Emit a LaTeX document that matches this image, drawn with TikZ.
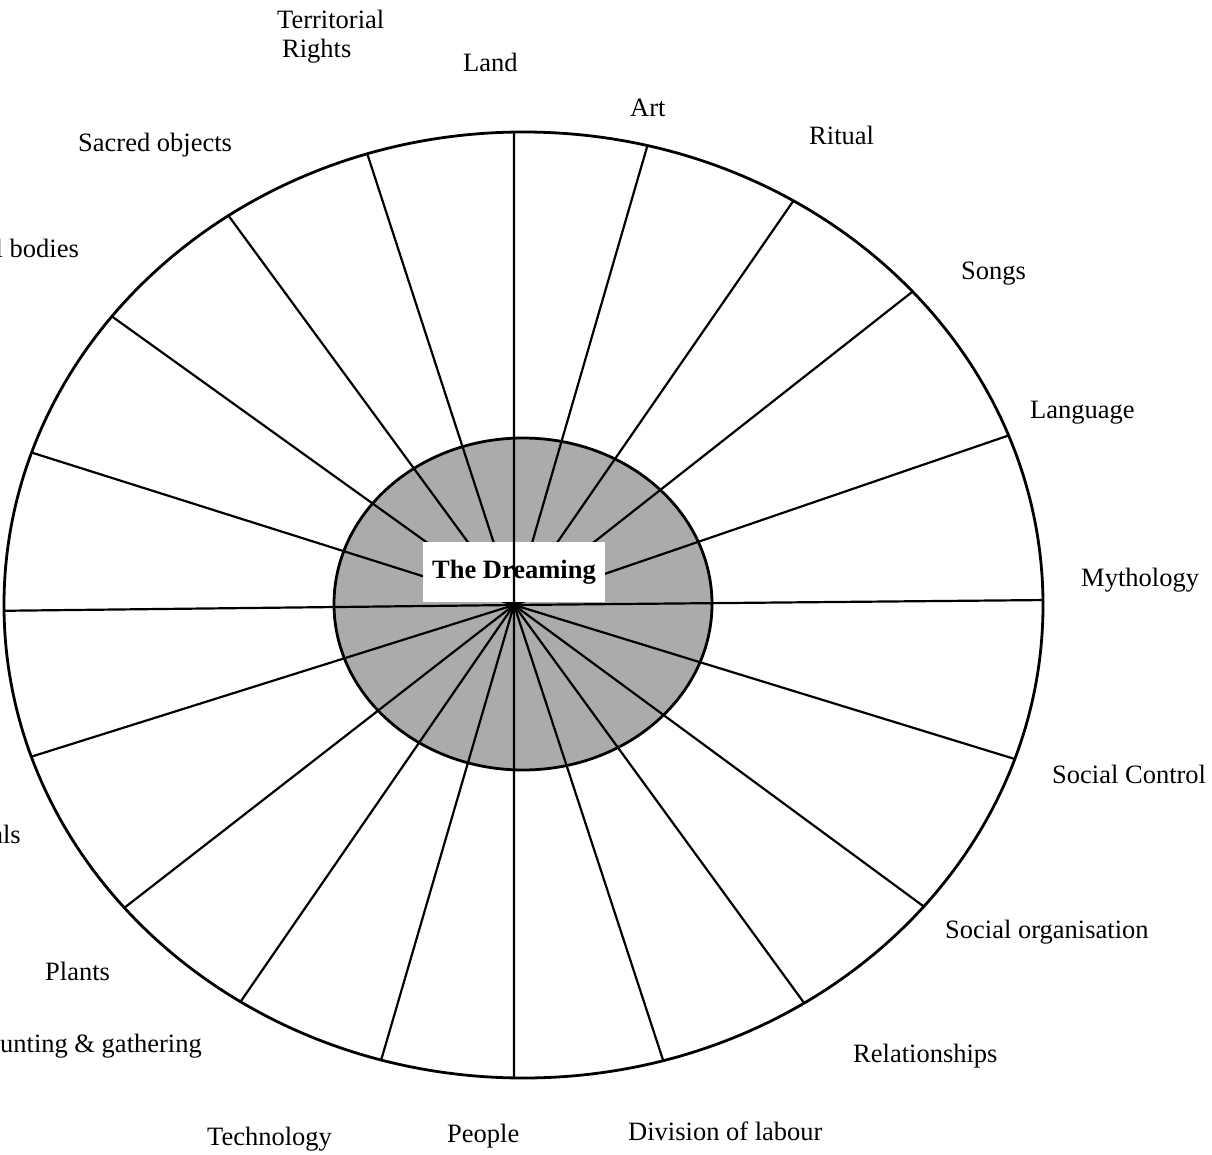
\documentclass[tikz,border=0pt]{standalone}
\usepackage{fontspec}
\setmainfont{Liberation Serif}
\begin{document}
\begin{tikzpicture}[x=1pt,y=-1pt,
  spoke/.style={line width=2.2pt},
  rim/.style={line width=2.8pt},
  lbl/.style={inner sep=0pt,font=\fontsize{26.5}{29}\selectfont},
  core/.style={fill=black!33},
  titlebox/.style={fill=white,inner sep=0pt,minimum width=182pt,minimum height=60pt,
                   font=\fontsize{26.5}{29}\selectfont\bfseries}
]
\useasboundingbox (0,0) rectangle (1212,1155);
\clip (0,0) rectangle (1212,1155);
\fill[white] (0,0) rectangle (1212,1155);
\coordinate (hub) at (514,605);
% spoke end points on the outer ellipse
\foreach \t/\n in {-91.05/top,-76.2/a,-58.7/b,-41.5/c,-21.0/d,-0.6/e,19.0/f,39.6/g,57.3/h,74.4/i,
                   91.05/bot,105.9/j,123.0/k,140.2/l,161.3/m,179.3/n,198.8/o,217.6/p,235.4/q,252.5/r}
  \coordinate (e\n) at ({523.5+519.5*cos(\t)},{605+473*sin(\t)});
% shaded core
\fill[core] (523,604) ellipse [x radius=189, y radius=166];
% spokes
\foreach \n in {a,b,c,d,e,f,g,h,i,bot,j,k,l,m,n,o,p,q,r}
  \draw[spoke] (hub) -- (e\n);
\draw[rim] (523,604) ellipse [x radius=189, y radius=166];
\draw[rim] (523.5,605) ellipse [x radius=519.5, y radius=473];
% centre label
\node (dream) [titlebox] at (514,572) {The Dreaming};
\draw[spoke] (hub) -- (etop);
% outer labels
\node (terr1) [lbl,anchor=base west] at (277,29) {Territorial};
\node (terr2) [lbl,anchor=base west] at (282,58) {Rights};
\node (land) [lbl,anchor=base west] at (463,72) {Land};
\node (art) [lbl,anchor=base west] at (630,117) {Art};
\node (ritual) [lbl,anchor=base west] at (809,145) {Ritual};
\node (songs) [lbl,anchor=base west] at (961,280) {Songs};
\node (lang) [lbl,anchor=base west] at (1030,418) {Language};
\node (myth) [lbl,anchor=base west] at (1081,586) {Mythology};
\node (sctrl) [lbl,anchor=base west] at (1052,783) {Social Control};
\node (sorg) [lbl,anchor=base west] at (945,938) {Social organisation};
\node (rel) [lbl,anchor=base west] at (853,1062) {Relationships};
\node (div) [lbl,anchor=base west] at (628,1140) {Division of labour};
\node (people) [lbl,anchor=base west] at (447,1142) {People};
\node (tech) [lbl,anchor=base west] at (207,1145) {Technology};
\node (hunt) [lbl,anchor=base east] at (202,1052) {Hunting \& gathering};
\node (plants) [lbl,anchor=base west] at (45,980) {Plants};
\node (animals) [lbl,anchor=base east] at (21,843) {Animals};
\node (celest) [lbl,anchor=base east] at (79,258) {Celestial bodies};
\node (sacred) [lbl,anchor=base west] at (78,152) {Sacred objects};
\end{tikzpicture}
\end{document}
